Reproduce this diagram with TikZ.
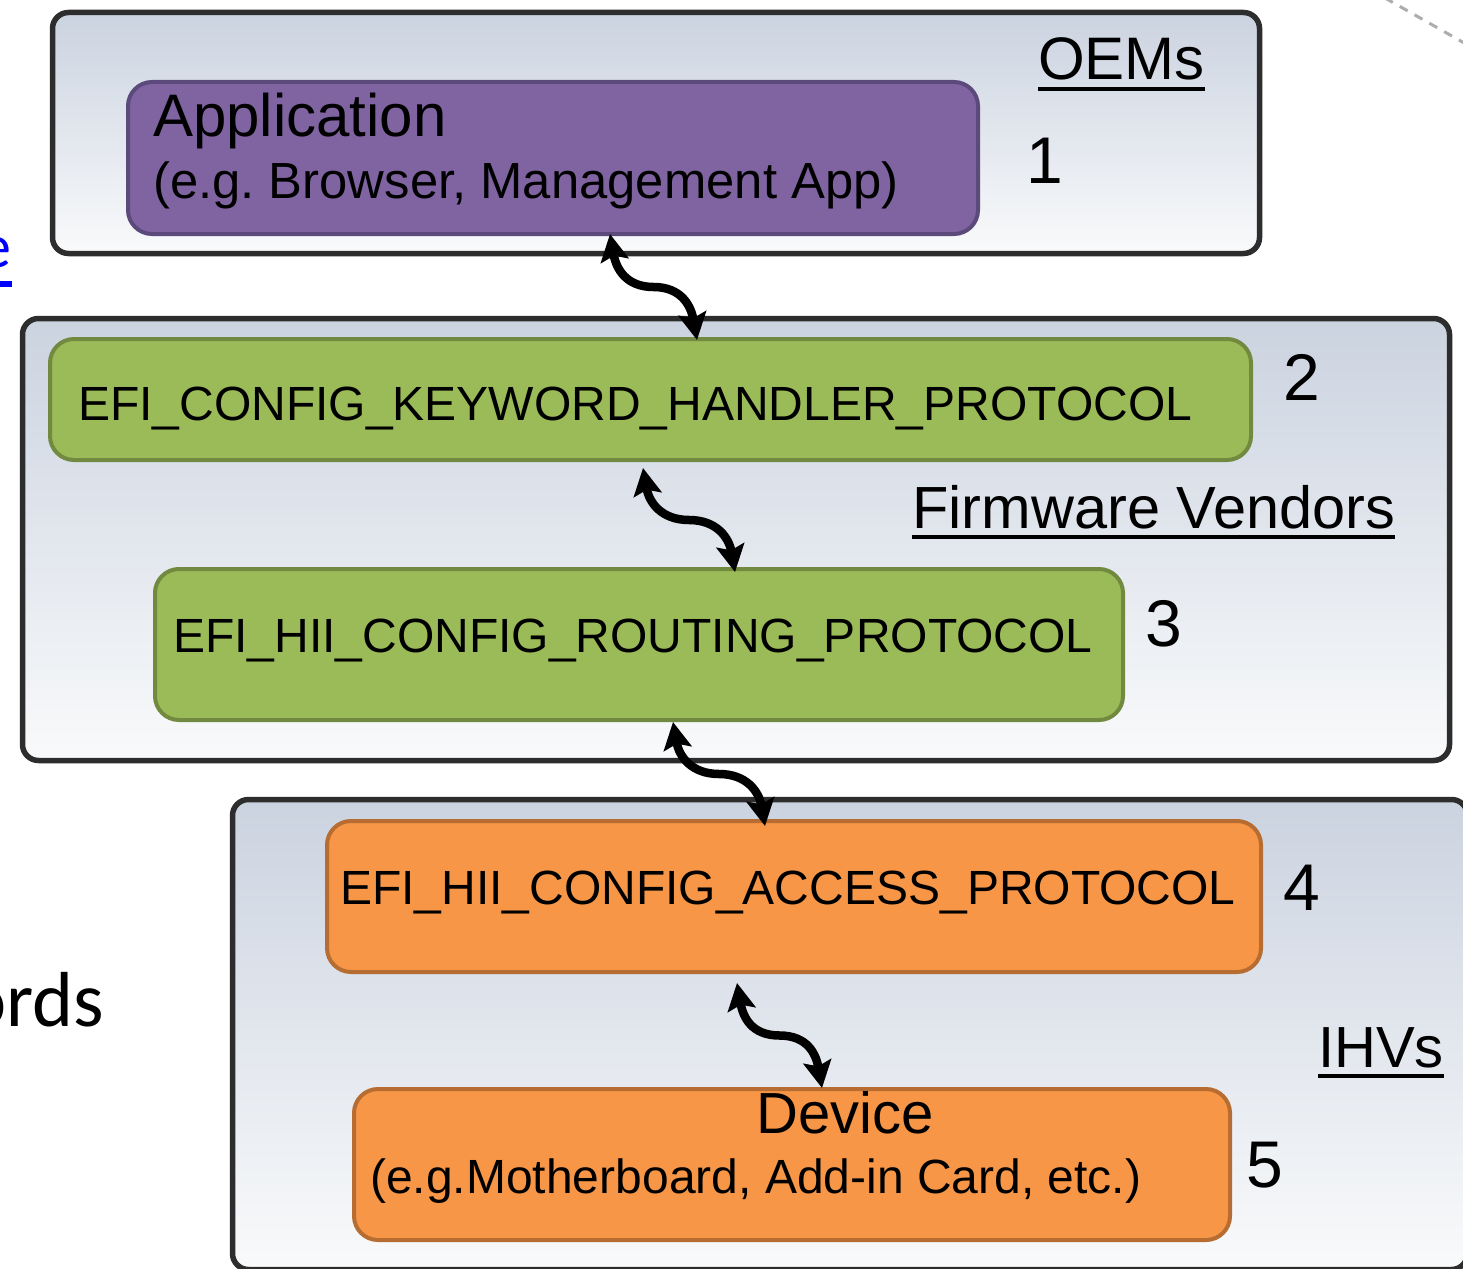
\documentclass[tikz,border=0pt]{standalone}
\usepackage{fontspec}
\setmainfont{Liberation Sans}
\newfontfamily\slidefont{Carlito}
\usetikzlibrary{arrows.meta,calc}

\definecolor{panelTop}{RGB}{203,211,224}
\definecolor{panelBot}{RGB}{249,250,251}
\definecolor{panelEdge}{RGB}{45,45,45}
\definecolor{appFill}{RGB}{128,100,162}
\definecolor{appEdge}{RGB}{93,74,124}
\definecolor{fwFill}{RGB}{155,187,89}
\definecolor{fwEdge}{RGB}{114,138,64}
\definecolor{hwFill}{RGB}{247,150,70}
\definecolor{hwEdge}{RGB}{183,109,49}
\definecolor{linkBlue}{RGB}{0,0,255}

\frenchspacing

\tikzset{
  panel/.style={draw=panelEdge, line width=5.5pt, rounded corners=16pt,
    top color=panelTop, bottom color=panelBot, inner sep=0pt, outer sep=0pt},
  layerbox/.style={line width=4pt, rounded corners=24pt, inner sep=0pt, outer sep=0pt},
  appbox/.style={layerbox, draw=appEdge, fill=appFill},
  fwbox/.style={layerbox, draw=fwEdge, fill=fwFill},
  hwbox/.style={layerbox, draw=hwEdge, fill=hwFill},
  txt/.style={inner sep=0pt, anchor=base west},
  num/.style={inner sep=0pt, anchor=base, font=\fontsize{66}{76}\selectfont},
  heading/.style={inner sep=0pt, anchor=base west, font=\fontsize{59.5}{68}\selectfont},
  uline/.style={line width=4pt},
  proto/.style={txt, font=\fontsize{48}{58}\selectfont},
  link/.style={line width=8.5pt, line cap=round,
    {Stealth[length=27pt,width=28pt,inset=5pt]}-{Stealth[length=27pt,width=28pt,inset=5pt]}},
}

\begin{document}
\begin{tikzpicture}[x=1pt,y=-1pt]
\useasboundingbox (0,0) rectangle (1463,1268);
\fill[white] (0,0) rectangle (1463,1268);
\clip (0,0) rectangle (1463,1268);

% slide fragments around the diagram
\draw[black!32, line width=3pt, dash pattern=on 9pt off 8pt] (1385,-2) -- (1480,52);
\node[anchor=base east, inner sep=0pt, text=linkBlue,
      font=\slidefont\fontsize{62}{70}\selectfont] (linkE) at (12,267) {e};
\draw[linkBlue, line width=6pt] ([yshift=-17pt]linkE.base west) -- ([yshift=-17pt]linkE.base east);
\node[anchor=base east, inner sep=0pt, font=\slidefont\fontsize{78}{90}\selectfont] (kwd) at (104,1026) {ords};

% ownership panels
\node[panel, minimum width=1207pt, minimum height=241pt] (oem) at (656,133) {};
\node[panel, minimum width=1427pt, minimum height=442pt] (fwv) at (736,539.5) {};
\node[panel, minimum width=1235pt, minimum height=470pt] (ihv) at (850,1034.5) {};

% layers
\node[appbox, minimum width=850pt, minimum height=152pt] (app) at (553,158) {};
\node[fwbox, minimum width=1201pt, minimum height=121pt] (kw) at (650.5,399.5) {};
\node[fwbox, minimum width=968pt, minimum height=151pt] (route) at (639,644.5) {};
\node[hwbox, minimum width=934pt, minimum height=151pt] (access) at (794,896.5) {};
\node[hwbox, minimum width=876pt, minimum height=151pt] (dev) at (792,1164.5) {};

% layer texts
\node[txt, font=\fontsize{60}{72}\selectfont] (appT) at (153,137) {Application};
\node[txt, font=\fontsize{50.8}{60}\selectfont] (appS) at (153,198) {(e.g. Browser, Management App)};
\node[proto] (kwT) at (78,420) {EFI\_CONFIG\_KEYWORD\_HANDLER\_PROTOCOL};
\node[proto] (routeT) at (173,652) {EFI\_HII\_CONFIG\_ROUTING\_PROTOCOL};
\node[proto] (accessT) at (340,904) {EFI\_HII\_CONFIG\_ACCESS\_PROTOCOL};
\node[inner sep=0pt, anchor=base, font=\fontsize{58}{68}\selectfont] (devT) at (845,1133) {Device};
\node[proto] (devS) at (370,1193) {(e.g.Motherboard, Add-in Card, etc.)};

% layer numbers
\node[num] (n1) at (1045,183) {1};
\node[num] (n2) at (1302,400) {2};
\node[num] (n3) at (1164,646) {3};
\node[num] (n4) at (1302,910) {4};
\node[num] (n5) at (1265,1187) {5};

% panel headings
\node[heading, font=\fontsize{60}{70}\selectfont] (hOEM) at (1038,80) {OEMs};
\node[heading] (hFW) at (912,528) {Firmware Vendors};
\node[heading, font=\fontsize{58}{68}\selectfont] (hIHV) at (1318,1067) {IHVs};
\foreach \h in {hOEM,hFW,hIHV}
  \draw[uline] ([yshift=-9pt]\h.base west) -- ([yshift=-9pt]\h.base east);

% two-way links between layers
\coordinate (a1) at ([xshift=57pt]app.south);
\coordinate (b1) at ([xshift=46.5pt,yshift=-1pt]kw.north);
\coordinate (a2) at ([xshift=-7.5pt,yshift=-8pt]kw.south);
\coordinate (b2) at ([xshift=96pt,yshift=-3pt]route.north);
\coordinate (a3) at ([xshift=34pt,yshift=-2pt]route.south);
\coordinate (b3) at ([xshift=-29pt,yshift=-5pt]access.north);
\coordinate (a4) at ([xshift=-57pt,yshift=-11pt]access.south);
\coordinate (b4) at ([xshift=30pt,yshift=1pt]dev.north);
\foreach \s/\e in {a1/b1,a2/b2,a3/b3,a4/b4}
  \draw[link] (\s) .. controls +(6,34) and +(-28,0) .. ($(\s)!0.5!(\e)$)
                   .. controls +(28,0) and +(-6,-34) .. (\e);
\end{tikzpicture}
\end{document}
